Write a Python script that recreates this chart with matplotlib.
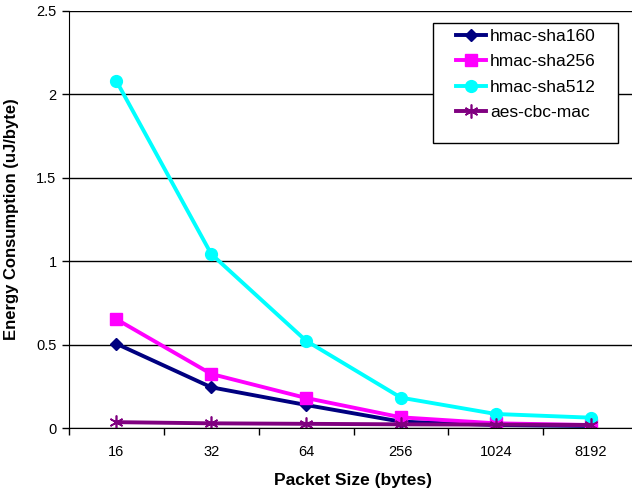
import numpy as np
import matplotlib.pyplot as plt
from matplotlib.ticker import FixedLocator
from matplotlib.patches import Rectangle

plt.rcParams['font.family'] = ['Liberation Sans', 'DejaVu Sans']

# ____________________________________________________________
# data

packet_sizes = ['16', '32', '64', '256', '1024', '8192']

hmac_sha160 = [0.505, 0.244, 0.138, 0.038, 0.018, 0.012]
hmac_sha256 = [0.652, 0.324, 0.180, 0.064, 0.028, 0.018]
hmac_sha512 = [2.08, 1.043, 0.523, 0.182, 0.084, 0.062]
aes_cbc_mac = [0.035, 0.028, 0.025, 0.022, 0.020, 0.018]

# ____________________________________________________________
# plot

W, H = 632, 490
fig = plt.figure(figsize=(W / 100, H / 100), dpi=100)
# plot area runs a little past the right edge of the figure
ax = fig.add_axes([69 / W, 1 - 428 / H, (638 - 69) / W, (428 - 11) / H])

x = np.arange(len(packet_sizes))
lw = 2.8
ax.plot(x, hmac_sha160, color='#000080', lw=lw, marker='D', ms=6.5, label='hmac-sha160')
ax.plot(x, hmac_sha256, color='#FF00FF', lw=lw, marker='s', ms=8, label='hmac-sha256')
ax.plot(x, hmac_sha512, color='#00FFFF', lw=lw, marker='o', ms=8.5, label='hmac-sha512')
ax.plot(x, aes_cbc_mac, color='#800080', lw=lw, marker=(6, 2, 0), ms=10, mew=1.2,
        label='aes-cbc-mac')

ax.set_xlim(-0.5, 5.5)
ax.set_ylim(0, 2.5)
ax.set_yticks([0, 0.5, 1, 1.5, 2, 2.5])
ax.set_yticklabels(['0', '0.5', '1', '1.5', '2', '2.5'])
ax.yaxis.grid(True, color='black', lw=1)
ax.set_axisbelow(True)

# category labels in the middle, tick marks between categories
ax.set_xticks(x)
ax.set_xticklabels(packet_sizes)
ax.tick_params(axis='x', which='major', length=0, pad=12, labelsize=10.5)
ax.xaxis.set_minor_locator(FixedLocator(np.arange(-0.5, 6, 1.0)))
ax.tick_params(axis='x', which='minor', length=5, width=1, direction='out')
ax.tick_params(axis='y', length=5, width=1, direction='out', labelsize=10.5, pad=4)

for s in ['top', 'right']:
    ax.spines[s].set_visible(False)
ax.spines['left'].set_color('black')
ax.spines['bottom'].set_color('black')

ax.set_xlabel('Packet Size (bytes)', fontsize=12.5, fontweight='bold', labelpad=10)
ax.set_ylabel('Energy Consumption (uJ/byte)', fontsize=12, fontweight='bold', labelpad=12)

# legend box drawn separately so the entries sit centred inside it
box = Rectangle((433 / W, 1 - 143 / H), (618 - 433) / W, (143 - 23) / H,
                transform=fig.transFigure, facecolor='white', edgecolor='black',
                lw=1, zorder=4, clip_on=False)
ax.add_patch(box)
leg = ax.legend(loc='upper left', bbox_to_anchor=(456 / W, 1 - 29 / H),
                bbox_transform=fig.transFigure, fontsize=12.5, frameon=False,
                borderpad=0, labelspacing=0.58, handlelength=1.75, handletextpad=0.2,
                borderaxespad=0)
leg.set_zorder(5)

plt.savefig('out.png', dpi=100)
